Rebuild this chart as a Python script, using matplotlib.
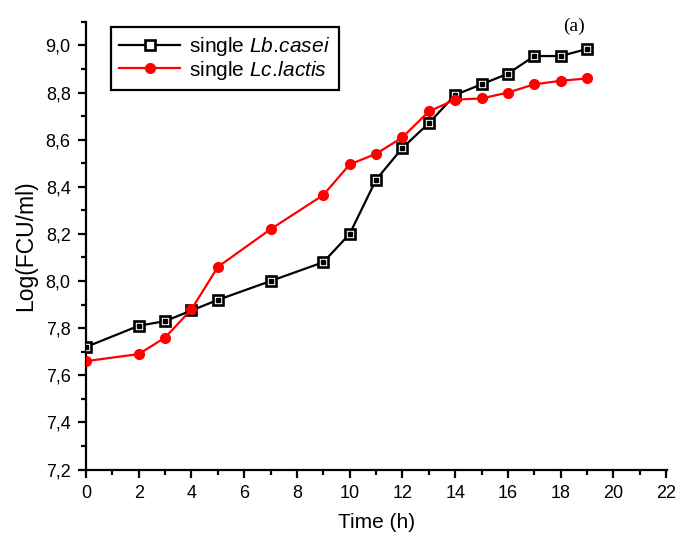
import matplotlib
matplotlib.use("Agg")
import matplotlib.pyplot as plt
from matplotlib.ticker import MultipleLocator, FuncFormatter

plt.rcParams['font.family'] = ['Liberation Sans', 'DejaVu Sans']
plt.rcParams['mathtext.fontset'] = 'custom'
plt.rcParams['mathtext.rm'] = 'Liberation Sans'
plt.rcParams['mathtext.it'] = 'Liberation Sans:italic'

time_casei = [0, 2, 3, 4, 5, 7, 9, 10, 11, 12, 13, 14, 15, 16, 17, 18, 19]
log_casei = [7.72, 7.81, 7.83, 7.875, 7.92, 8.00, 8.08, 8.20, 8.43, 8.565, 8.67, 8.79, 8.835, 8.88, 8.955, 8.955, 8.985]
time_lactis = [0, 2, 3, 4, 5, 7, 9, 10, 11, 12, 13, 14, 15, 16, 17, 18, 19]
log_lactis = [7.66, 7.69, 7.76, 7.88, 8.06, 8.22, 8.365, 8.495, 8.54, 8.61, 8.72, 8.77, 8.775, 8.80, 8.835, 8.85, 8.86]

label_casei = 'single $\\mathit{Lb.\\!casei}$'
label_lactis = 'single $\\mathit{Lc.\\!lactis}$'

fig = plt.figure(figsize=(6.8, 5.38), dpi=100)
ax = fig.add_axes([0.1265, 0.1273, 0.855, 0.832])

ax.plot(time_casei, log_casei, color='black', lw=1.6, marker='s', ms=7,
        mfc='white', mec='black', mew=1.9, label=label_casei, zorder=3)
ax.plot(time_casei, log_casei, ls='none', marker='s', ms=2.2, mfc='black',
        mec='black', zorder=4)
ax.plot(time_lactis, log_lactis, color='red', lw=1.6, marker='o', ms=7,
        mfc='red', mec='red', label=label_lactis, zorder=5)

ax.set_xlim(0, 22.05)
ax.set_ylim(7.2, 9.1)
ax.xaxis.set_major_locator(MultipleLocator(2))
ax.xaxis.set_minor_locator(MultipleLocator(1))
ax.yaxis.set_major_locator(MultipleLocator(0.2))
ax.yaxis.set_minor_locator(MultipleLocator(0.1))
ax.yaxis.set_major_formatter(FuncFormatter(lambda v, p: f"{v:.1f}".replace('.', ',')))

for s in ['top', 'right']:
    ax.spines[s].set_visible(False)
for s in ['left', 'bottom']:
    ax.spines[s].set_linewidth(1.6)

ax.tick_params(which='major', direction='out', length=6, width=1.6, labelsize=13, pad=5)
ax.tick_params(which='minor', direction='out', length=3.5, width=1.6)

ax.set_xlabel('Time (h)', fontsize=15, labelpad=8)
ax.set_ylabel('Log(FCU/ml)', fontsize=16.5, labelpad=6)

leg = ax.legend(loc='upper left', bbox_to_anchor=(0.043, 0.989), borderaxespad=0,
                fontsize=15, fancybox=False, framealpha=1, edgecolor='black',
                handlelength=2.9, handletextpad=0.45, borderpad=0.4, labelspacing=0.02)
leg.get_frame().set_linewidth(1.6)

ax.text(0.839, 0.99, '(a)', transform=ax.transAxes, fontsize=14,
        family=['Liberation Serif', 'DejaVu Serif'], ha='center', va='center')

fig.savefig('out.png', dpi=100)
